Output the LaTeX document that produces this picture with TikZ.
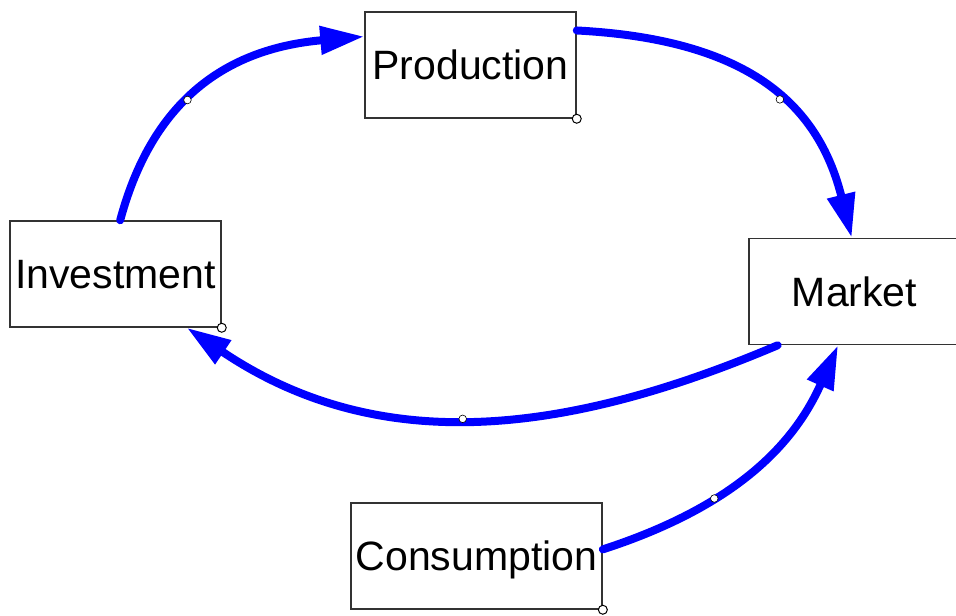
\documentclass[tikz,border=0pt]{standalone}
\usepackage{fontspec}
\setmainfont{Liberation Sans}
\usetikzlibrary{arrows.meta}

\tikzset{
  block/.style={draw=black!80, line width=0.75pt, fill=white, minimum width=105.5pt,
    minimum height=53pt, inner xsep=2.4pt, text height=14.7pt, text depth=0pt,
    font=\fontsize{20.5}{24}\selectfont},
  flow/.style={blue, line width=4pt, line cap=round, -{Triangle[length=22pt,width=13.5pt]}},
  middot/.style={circle, fill=white, draw=black, line width=0.3pt, inner sep=0pt, minimum size=3.8pt},
  cornerdot/.style={circle, fill=white, draw=black, line width=0.5pt, inner sep=0pt, minimum size=4.5pt}
}

\begin{document}
\begin{tikzpicture}[x=0.5pt,y=-0.5pt]
  \useasboundingbox (0,0) rectangle (956,615);
  % boxes
  \node[block] (prod) at (470.5,65) {Production};
  \node[block] (inv) at (115.5,274) {Investment};
  \node[block] (mkt) at (854.5,291.5) {Market};
  \node[block, minimum width=125.5pt] (cons) at (476.5,556) {Consumption};
  % flows
  \path[flow]
    (inv.85) edge[out=75, in=185, looseness=1.1] node[middot, pos=.42] (d1) {} (prod.165)
    (prod.18) edge[out=-3, in=104, out looseness=1.26, in looseness=1.04] node[middot, pos=.56] (d2) {} (mkt.93)
    (mkt.-145) edge[out=203, in=-34] node[middot, pos=.52] (d3) {} (inv.-37)
    (cons.3) edge[out=18, in=246, out looseness=1.14, in looseness=.9] node[middot, pos=.34] (d4) {} (mkt.-107);
  % corner handles
  \node[cornerdot] (prodc) at (prod.south east) {};
  \node[cornerdot] (invc) at (inv.south east) {};
  \node[cornerdot] (consc) at (cons.south east) {};
\end{tikzpicture}
\end{document}
